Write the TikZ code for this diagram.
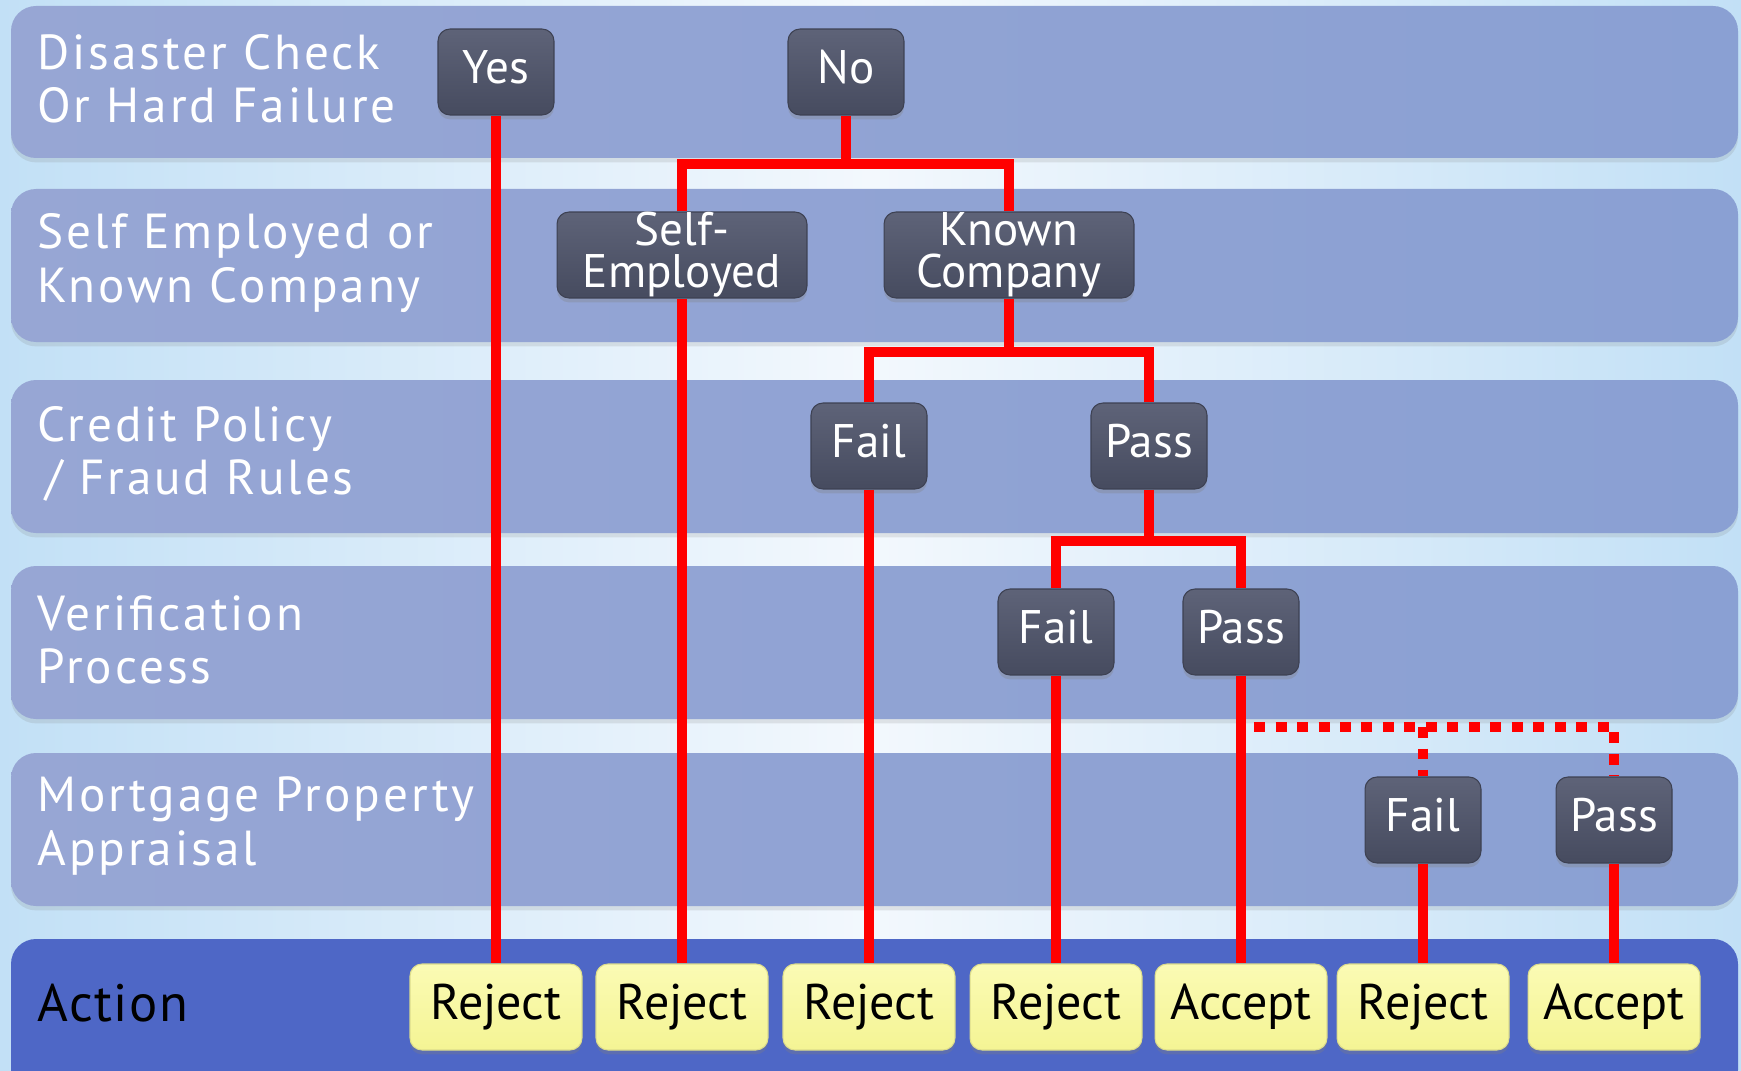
\documentclass[tikz,border=0pt]{standalone}
\usepackage{fontspec}
\setmainfont{PT Sans}
\newfontfamily\lanefont[LetterSpace=6]{PT Sans}
\newfontfamily\actionfont[LetterSpace=3]{PT Sans}
\usetikzlibrary{shadows,calc}

\definecolor{bgside}{HTML}{C2E0F6}
\definecolor{bgmid}{HTML}{F3F8FD}
\definecolor{bandL}{HTML}{97A6D4}
\definecolor{bandR}{HTML}{8AA0D3}
\definecolor{actionband}{HTML}{4E67C6}
\definecolor{darktop}{HTML}{5E6378}
\definecolor{darkbot}{HTML}{464B5F}
\definecolor{darkedge}{HTML}{3D4152}
\definecolor{yeltop}{HTML}{FBFBB4}
\definecolor{yelbot}{HTML}{F4F494}
\definecolor{yeledge}{HTML}{DCDC8C}
\definecolor{linkred}{HTML}{FF0000}

\begin{document}
\begin{tikzpicture}[x=0.02cm, y=-0.02cm,
  band/.style={rounded corners=0.5cm, left color=bandL, right color=bandR,
    drop shadow={shadow xshift=0pt, shadow yshift=-2.5pt, opacity=0.18}},
  actionstrip/.style={rounded corners=0.5cm, fill=actionband},
  bandlabel/.style={anchor=west, align=left, text=white, inner sep=0pt,
    font=\lanefont\fontsize{28}{30.2}\selectfont},
  darkbase/.style={rounded corners=0.24cm, minimum width=2.32cm, minimum height=1.72cm,
    top color=darktop, bottom color=darkbot, draw=darkedge, line width=0.6pt,
    text=white, align=center, inner sep=0pt,
    font=\fontsize{26.8}{23.9}\selectfont,
    drop shadow={shadow xshift=0pt, shadow yshift=-2.5pt, opacity=0.3}},
  dark/.style={darkbase, text height=18.8pt, text depth=5.4pt},
  wide/.style={darkbase, minimum width=5.0cm},
  outcome/.style={rounded corners=0.24cm, minimum width=3.44cm, minimum height=1.72cm,
    top color=yeltop, bottom color=yelbot, draw=yeledge, line width=0.6pt,
    text=black, inner sep=0pt, font=\fontsize{28.5}{30}\selectfont,
    drop shadow={shadow xshift=0pt, shadow yshift=-2.5pt, opacity=0.3}},
  redlink/.style={draw=linkred, line width=0.195cm},
  dotlink/.style={redlink, dash pattern=on 0.22cm off 0.21cm},
]

% canvas and background wash
\useasboundingbox (0,0) rectangle (1741,1071);
\shade[left color=bgside, right color=bgside, middle color=bgmid] (0,0) rectangle (1741,1071);

% horizontal swim-lane bands
\path[band] (11,6) rectangle (1738,158);
\path[band] (11,189) rectangle (1738,342);
\path[band] (11,380) rectangle (1738,533);
\path[band] (11,566) rectangle (1738,719);
\path[band] (11,753) rectangle (1738,906);
\path[actionstrip] (11,939) rectangle (1738,1095);

% lane titles
\node[bandlabel] (lab1) at (37,79) {Disaster Check\\Or Hard Failure};
\node[bandlabel] (lab2) at (37,263) {Self Employed or\\Known Company};
\node[bandlabel] (lab3) at (37,454) {Credit Policy\\\,/ Fraud Rules};
\node[bandlabel] (lab4) at (37,640) {Verification\\Process};
\node[bandlabel] (lab5) at (37,826) {Mortgage Property\\Appraisal};
\node[bandlabel, text=black, font=\actionfont\fontsize{30}{32}\selectfont] (lab6) at (37,1003) {Action};

% decision nodes
\node[dark] (yes) at (496,72) {Yes};
\node[dark] (no)  at (846,72) {No};
\node[wide] (se)  at (682,255) {Self-\\Employed};
\node[wide] (kc)  at (1009,255) {Known\\Company};
\node[dark] (f3)  at (869,446) {Fail};
\node[dark] (p3)  at (1149,446) {Pass};
\node[dark] (f4)  at (1056,632) {Fail};
\node[dark] (p4)  at (1241,632) {Pass};
\node[dark] (f5)  at (1423,820) {Fail};
\node[dark] (p5)  at (1614,820) {Pass};

% outcomes
\node[outcome] (r1) at (496,1007) {Reject};
\node[outcome] (r2) at (682,1007) {Reject};
\node[outcome] (r3) at (869,1007) {Reject};
\node[outcome] (r4) at (1056,1007) {Reject};
\node[outcome] (a5) at (1241,1007) {Accept};
\node[outcome] (r6) at (1423,1007) {Reject};
\node[outcome] (a7) at (1614,1007) {Accept};

% branch junctions
\coordinate (j1) at (846,164);
\coordinate (j2) at (1009,352);
\coordinate (j3) at (1149,541);
\coordinate (d0) at (1254,727);

% tree branches
\draw[redlink] (no.south) -- (j1);
\draw[redlink] (se.north) |- (j1) -| (kc.north);
\draw[redlink] (kc.south) -- (j2);
\draw[redlink] (f3.north) |- (j2) -| (p3.north);
\draw[redlink] (p3.south) -- (j3);
\draw[redlink] (f4.north) |- (j3) -| (p4.north);

% drops to the outcomes
\draw[redlink] (yes.south) -- (yes.south |- r1.north);
\draw[redlink] (se.south) -- (se.south |- r2.north);
\draw[redlink] (f3.south) -- (f3.south |- r3.north);
\draw[redlink] (f4.south) -- (f4.south |- r4.north);
\draw[redlink] (p4.south) -- (p4.south |- a5.north);
\draw[redlink] (f5.south) -- (f5.south |- r6.north);
\draw[redlink] (p5.south) -- (p5.south |- a7.north);

% optional appraisal step
\draw[dotlink] (d0) -| (p5.north);
\draw[dotlink] (f5.north |- d0) -- (f5.north);

\end{tikzpicture}
\end{document}
